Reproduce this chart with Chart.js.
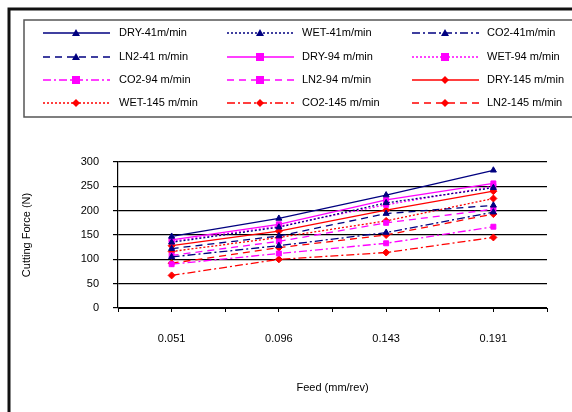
<!DOCTYPE html>
<html>
<head>
<meta charset="utf-8">
<script src="https://cdn.jsdelivr.net/npm/chart.js@4.4.0/dist/chart.umd.min.js"></script>
<style>
    body { margin: 0; background: #fff; }
    #wrap { width: 572px; height: 412px; }
</style>
</head>
<body>
<div id="wrap"><canvas id="forceChart" width="572" height="412"></canvas></div>
<script>
/* global Chart */
const feedLabels = ['0.051', '0.096', '0.143', '0.191'];
const yTicks = [0, 50, 100, 150, 200, 250, 300];

const dry41 = [147, 184, 232, 283];
const wet41 = [135, 166, 216, 247];
const co241 = [105, 128, 155, 197];
const ln241 = [122, 148, 194, 211];
const dry94 = [140, 172, 222, 256];
const wet94 = [137, 168, 212, 250];
const co294 = [90, 112, 133, 167];
const ln294 = [108, 137, 175, 203];
const dry145 = [128, 158, 201, 240];
const wet145 = [116, 145, 179, 225];
const co2145 = [67, 100, 114, 145];
const ln2145 = [92, 124, 150, 193];

const NAVY = '#000080';
const PINK = '#ff00ff';
const RED = '#ff0000';
const DOT = [2, 2];
const DASHDOT = [8, 3, 2, 3];
const DASH = [7, 5];

function series(label, values, color, style, dash) {
    return {
        label: label,
        data: values.map((v, i) => ({x: i * 2 + 1, y: v})),
        borderColor: color,
        backgroundColor: color,
        borderWidth: 1.3,
        borderDash: dash,
        pointStyle: style,
        pointRadius: 3.5,
        pointBorderWidth: 1,
        tension: 0
    };
}

// legend drawn like the Excel one: 3 columns x 4 rows in a framed box
const legendBox = {
    id: 'legendBox',
    afterDraw(chart) {
        const ctx = chart.ctx;
        ctx.save();
        // outer frame
        ctx.strokeStyle = '#111';
        ctx.lineWidth = 3;
        ctx.strokeRect(9, 9, 600, 420);
        // legend frame
        ctx.strokeStyle = '#555';
        ctx.lineWidth = 1.5;
        ctx.strokeRect(24, 20, 580, 97);

        const colLine = [43, 227, 412];
        const colText = [119, 302, 487];
        const rowY = [33, 57, 80, 103];
        ctx.font = '11px "Liberation Sans", Arial, sans-serif';
        ctx.textBaseline = 'middle';
        chart.data.datasets.forEach((ds, i) => {
            const x0 = colLine[i % 3];
            const y = rowY[Math.floor(i / 3)];
            ctx.strokeStyle = ds.borderColor;
            ctx.lineWidth = 1.3;
            ctx.setLineDash(ds.borderDash || []);
            ctx.beginPath();
            ctx.moveTo(x0, y);
            ctx.lineTo(x0 + 67, y);
            ctx.stroke();
            ctx.setLineDash([]);
            const mx = x0 + 33;
            ctx.fillStyle = ds.borderColor;
            ctx.beginPath();
            if (ds.pointStyle === 'triangle') {
                ctx.moveTo(mx, y - 4);
                ctx.lineTo(mx + 4, y + 3);
                ctx.lineTo(mx - 4, y + 3);
            } else if (ds.pointStyle === 'rect') {
                ctx.rect(mx - 4, y - 4, 8, 8);
            } else {
                ctx.moveTo(mx, y - 4);
                ctx.lineTo(mx + 4, y);
                ctx.lineTo(mx, y + 4);
                ctx.lineTo(mx - 4, y);
            }
            ctx.closePath();
            ctx.fill();
            ctx.fillStyle = '#000';
            ctx.fillText(ds.label, colText[i % 3], y);
        });
        ctx.restore();
    }
};

document.addEventListener('DOMContentLoaded', function () {
    const font = {family: '"Liberation Sans", Arial, sans-serif', size: 11};
    new Chart(document.getElementById('forceChart'), {
        type: 'line',
        data: {
            datasets: [
                series('DRY-41m/min', dry41, NAVY, 'triangle', []),
                series('WET-41m/min', wet41, NAVY, 'triangle', DOT),
                series('CO2-41m/min', co241, NAVY, 'triangle', DASHDOT),
                series('LN2-41 m/min', ln241, NAVY, 'triangle', DASH),
                series('DRY-94 m/min', dry94, PINK, 'rect', []),
                series('WET-94 m/min', wet94, PINK, 'rect', DOT),
                series('CO2-94 m/min', co294, PINK, 'rect', DASHDOT),
                series('LN2-94 m/min', ln294, PINK, 'rect', DASH),
                series('DRY-145 m/min', dry145, RED, 'rectRot', []),
                series('WET-145 m/min', wet145, RED, 'rectRot', DOT),
                series('CO2-145 m/min', co2145, RED, 'rectRot', DASHDOT),
                series('LN2-145 m/min', ln2145, RED, 'rectRot', DASH)
            ]
        },
        options: {
            responsive: false,
            animation: false,
            layout: {padding: {left: 0, top: 162, right: 25, bottom: 0}},
            scales: {
                x: {
                    type: 'linear',
                    min: 0,
                    max: feedLabels.length * 2,
                    afterFit: function (scale) { scale.height = 104; },
                    afterBuildTicks: function (scale) {
                        scale.ticks = [];
                        for (let i = 0; i <= feedLabels.length * 2; i++) scale.ticks.push({value: i});
                    },
                    ticks: {
                        autoSkip: false,
                        maxRotation: 0,
                        padding: 20,
                        color: '#000',
                        font: font,
                        callback: function (value) {
                            return value % 2 === 1 ? feedLabels[(value - 1) / 2] : '';
                        }
                    },
                    grid: {drawOnChartArea: false, tickLength: 4, color: '#000'},
                    border: {color: '#000', width: 1},
                    title: {display: true, text: 'Feed (mm/rev)', color: '#000', font: font, padding: {top: 0, bottom: 17}}
                },
                y: {
                    min: 0,
                    max: 300,
                    afterFit: function (scale) { scale.width = 118; },
                    afterBuildTicks: function (scale) {
                        scale.ticks = yTicks.map(v => ({value: v}));
                    },
                    ticks: {color: '#000', font: font, padding: 14},
                    grid: {color: '#000', lineWidth: 1.2, tickLength: 5},
                    border: {color: '#000', width: 1.2},
                    title: {display: true, text: 'Cutting Force (N)', color: '#000', font: font, padding: {top: 20, bottom: 0}}
                }
            },
            plugins: {
                legend: {display: false},
                tooltip: {enabled: false}
            }
        },
        plugins: [legendBox]
    });
});
</script>
</body>
</html>
